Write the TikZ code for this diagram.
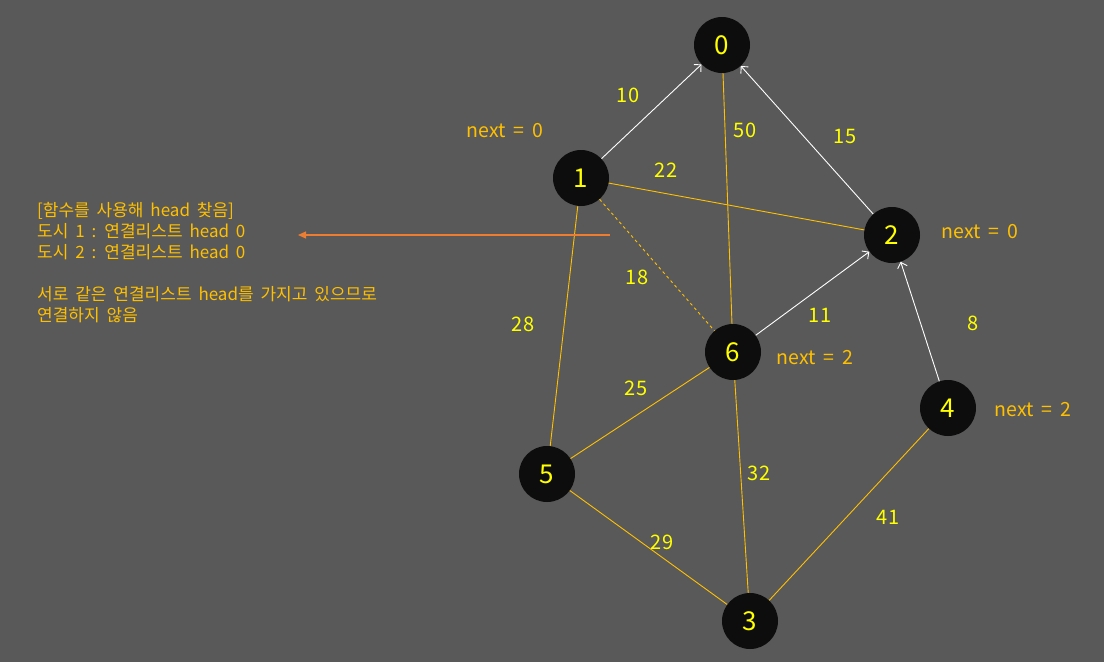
\documentclass[tikz,border=0pt]{standalone}
\usepackage{fontspec}
\setmainfont{Noto Sans CJK KR}
\newfontfamily\widefont[WordSpace=2.2]{Noto Sans CJK KR}
\newfontfamily\notefont[WordSpace=1.8]{Noto Sans CJK KR}
\usetikzlibrary{arrows.meta}
\definecolor{bgc}{HTML}{595959}
\definecolor{gold}{HTML}{FFC000}
\definecolor{orng}{HTML}{ED7D31}
\definecolor{vtxc}{HTML}{0D0D0D}
\definecolor{yel}{HTML}{FFFF00}
\begin{document}
\begin{tikzpicture}[x=1pt, y=-1pt, >={Straight Barb[length=5pt,width=10pt]},
		vtx/.style={circle, fill=vtxc, minimum size=56pt, inner sep=0pt,
				text=yel, font=\fontsize{26}{26}\selectfont},
		wgt/.style={text=yel, font=\fontsize{20}{20}\selectfont},
		nxt/.style={text=gold, font=\widefont\fontsize{19.5}{19.5}\selectfont},
		edge/.style={gold, line width=0.9pt},
		link/.style={->, white, line width=0.9pt}]
		\fill[bgc] (0,0) rectangle (1104,662);
		% vertices
		\node[vtx] (v0) at (722,45) {0};
		\node[vtx] (v1) at (581,178) {1};
		\node[vtx] (v2) at (892,235) {2};
		\node[vtx] (v3) at (750,621) {3};
		\node[vtx] (v4) at (948,408) {4};
		\node[vtx] (v5) at (547,474) {5};
		\node[vtx] (v6) at (733,352) {6};
		% edges
		\draw[edge] (v0) -- (v6);
		\draw[edge] (v1) -- (v2);
		\draw[edge, dash pattern=on 3pt off 3pt] (v1) -- (v6);
		\draw[edge] (v1) -- (v5);
		\draw[edge] (v6) -- (v5);
		\draw[edge] (v6) -- (v3);
		\draw[edge] (v5) -- (v3);
		\draw[edge] (v4) -- (v3);
		\draw[link] (v1) -- (v0);
		\draw[link] (v2) -- (v0);
		\draw[link] (v6) -- (v2);
		\draw[link] (v4) -- (v2);
		% weights
		\node[wgt] (w10) at (628,95) {10};
		\node[wgt] (w50) at (745,130) {50};
		\node[wgt] (w15) at (845,136) {15};
		\node[wgt] (w22) at (666,170) {22};
		\node[wgt] (w18) at (637,277) {18};
		\node[wgt] (w28) at (523,324) {28};
		\node[wgt] (w11) at (820,315) {11};
		\node[wgt] (w8) at (973,323) {8};
		\node[wgt] (w25) at (636,388) {25};
		\node[wgt] (w32) at (759,473) {32};
		\node[wgt] (w41) at (888,517) {41};
		\node[wgt] (w29) at (662,542) {29};
		% next pointers
		\node[nxt] (n1) at (505,131) {next = 0};
		\node[nxt] (n2) at (980,232) {next = 0};
		\node[nxt] (n6) at (815,358) {next = 2};
		\node[nxt] (n4) at (1033,410) {next = 2};
		% note
		\coordinate (from) at (610,235);
		\coordinate (to) at (298,235);
		\draw[-{Triangle[length=8pt,width=7pt]}, orng, line width=1.2pt] (from) -- (to);
		\node[anchor=north west, align=left, text=gold, inner sep=0pt,
			font=\notefont\fontsize{17}{21}\selectfont] (note) at (37,202)
		{[함수를 사용해 head 찾음]\\
			도시 1 : 연결리스트 head 0\\
			도시 2 : 연결리스트 head 0\\[21pt]
			서로 같은 연결리스트 head를 가지고 있으므로\\
			연결하지 않음};
	\end{tikzpicture}
\end{document}
